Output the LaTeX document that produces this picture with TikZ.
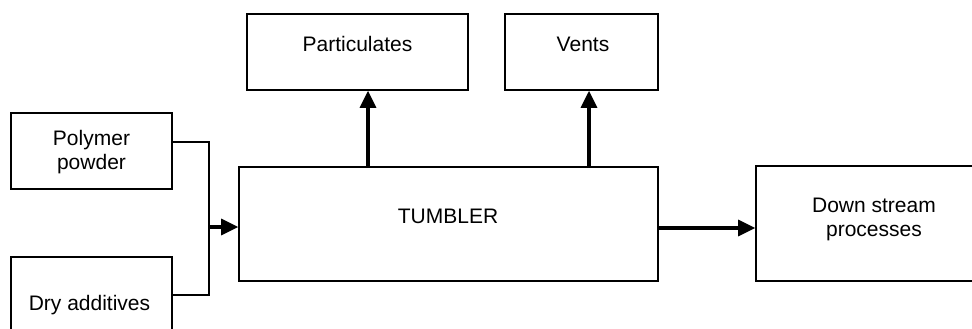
\documentclass[tikz,border=0pt]{standalone}
\usepackage{fontspec}
\setmainfont{Liberation Sans}
\usetikzlibrary{arrows.meta,calc}
\tikzset{
  box/.style={draw=black, line width=1.6pt, rectangle, inner sep=0pt, anchor=center},
  lbl/.style={anchor=base, align=center, inner sep=0pt, font=\fontsize{21}{24}\selectfont},
  flow/.style={line width=1.6pt},
  arr/.style={line width=3.2pt, -{Triangle[length=17pt,width=16pt]}},
}
\begin{document}
\begin{tikzpicture}[x=1pt,y=-1pt]
\useasboundingbox (0,0) rectangle (972,329);
\clip (0,0) rectangle (972,329);
% boxes
\node[box, minimum width=161pt, minimum height=76pt] (poly) at (91.5,151) {};
\node[box, minimum width=161pt, minimum height=90pt] (dry) at (91.5,302) {};
\node[box, minimum width=419pt, minimum height=114pt] (tum) at (448.5,224) {};
\node[box, minimum width=221pt, minimum height=76pt] (part) at (357.5,52) {};
\node[box, minimum width=153pt, minimum height=76pt] (vent) at (581.5,52) {};
\node[box, minimum width=234pt, minimum height=115pt] (ds) at (873,223.5) {};
% texts
\node[lbl] (tpoly) at (91.5,169) {Polymer\\powder};
\node[lbl] (tdry) at (89.5,310) {Dry additives};
\node[lbl] (ttum) at (448,223) {TUMBLER};
\node[lbl] (tpart) at (357.5,52) {Particulates};
\node[lbl] (tvent) at (583,52) {Vents};
\node[lbl] (tds) at (874,236) {Down stream\\processes};
% connectors
\coordinate (j) at (209,227);
\coordinate (p1) at ($(poly.north east)+(0,30)$);
\coordinate (d1) at ($(dry.north east)+(0,39)$);
\draw[flow] (p1) -| (j) |- (d1);
\draw[arr] (j) -- (j -| tum.west);
\coordinate (u1) at (368,0);
\coordinate (u2) at (589,0);
\draw[arr] (u1 |- tum.north) -- (u1 |- part.south);
\draw[arr] (u2 |- tum.north) -- (u2 |- vent.south);
\coordinate (r1) at ($(tum.east)+(0,4)$);
\draw[arr] (r1) -- (r1 -| ds.west);
\end{tikzpicture}
\end{document}
